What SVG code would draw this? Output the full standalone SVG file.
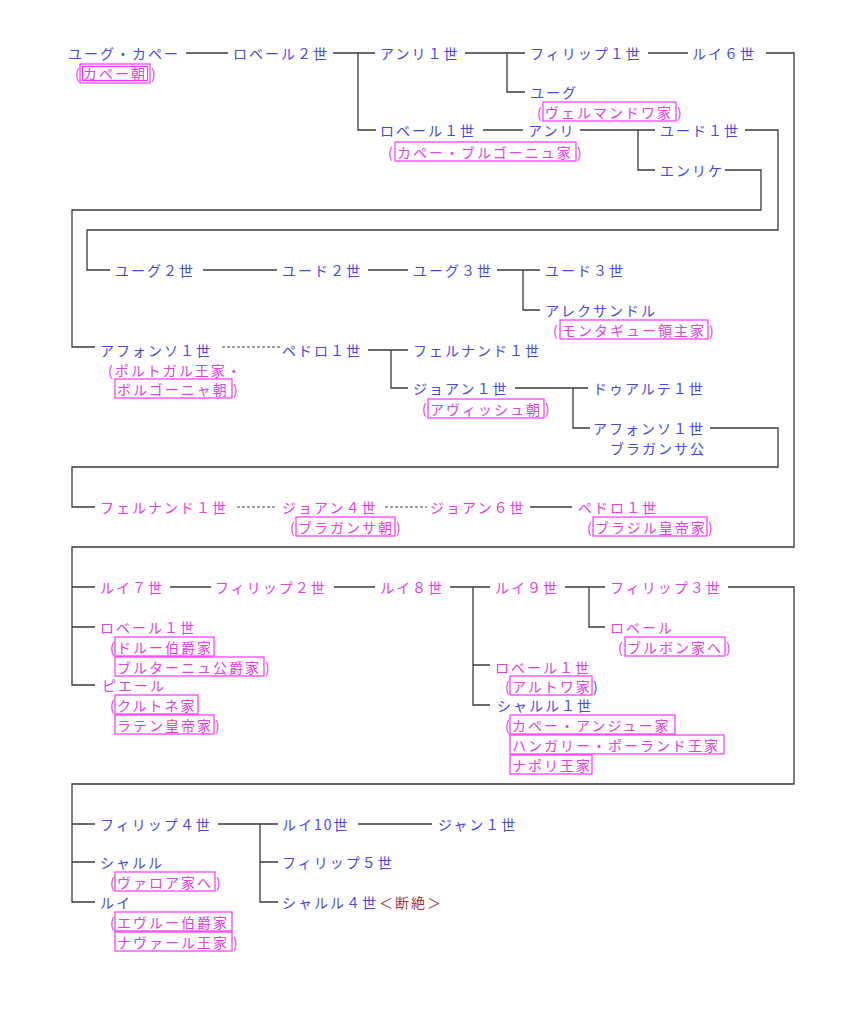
<svg xmlns="http://www.w3.org/2000/svg" width="861" height="1024" viewBox="0 0 861 1024">
<style>
text{font-family:"Noto Sans CJK JP","Noto Sans",sans-serif;font-size:14px;letter-spacing:2px;dominant-baseline:central}
.b{fill:#4848dc}
.m{fill:#e040e0}
.r{fill:#a03838}
.bx{fill:none;stroke:#ff30ff;stroke-width:1.2}
.ln{fill:none;stroke:#3a3a3a;stroke-width:1.3}
.dt{fill:none;stroke:#404040;stroke-width:1.2;stroke-dasharray:3 2}
</style>
<rect width="861" height="1024" fill="#ffffff"/>
<g id="connectors">
<path class="ln" d="M186 53H228"/>
<path class="ln" d="M333 53H375M358 53V130H376"/>
<path class="ln" d="M465 53H525M507 53V92H525"/>
<path class="ln" d="M648 53H688"/>
<path class="ln" d="M766 53H794V547H72V685H95M72 587H95M72 627H95"/>
<path class="ln" d="M483 130H523"/>
<path class="ln" d="M580 130H655M638 130V170H655"/>
<path class="ln" d="M745 130H778V230H87V270H110"/>
<path class="ln" d="M725 170H761V210H72V347H95"/>
<path class="ln" d="M203 270H277"/>
<path class="ln" d="M368 270H408"/>
<path class="ln" d="M497 270H540M523 270V310H540"/>
<path class="dt" d="M222 347H280"/>
<path class="ln" d="M368 350H408M391 350V388H408"/>
<path class="ln" d="M515 388H588M573 388V428H590"/>
<path class="ln" d="M710 428H778V467H72V507H95"/>
<path class="dt" d="M237 507H277"/>
<path class="dt" d="M385 507H427"/>
<path class="ln" d="M530 507H572"/>
<path class="ln" d="M170 587H211"/>
<path class="ln" d="M334 587H375"/>
<path class="ln" d="M450 587H490M473 587V705H490M473 665H490"/>
<path class="ln" d="M565 587H605M589 587V627H605"/>
<path class="ln" d="M728 587H794V784H72V902H95M72 824H95M72 862H95"/>
<path class="ln" d="M218 824H278M260 824V902H278M260 862H278"/>
<path class="ln" d="M358 824H432"/>
</g>
<g id="n-hugues-capet">
<text class="b" x="68" y="53">ユーグ・カペー</text>
<text class="m" x="75" y="73">(</text>
<rect class="bx" x="80" y="64" width="70" height="19"/>
<rect class="bx" x="82.5" y="66.5" width="65" height="14"/>
<text class="m" x="83" y="73">カペー朝</text>
<text class="m" x="151" y="73">)</text>
</g>
<g id="n-robert2"><text class="b" x="233" y="53">ロベール２世</text></g>
<g id="n-henri1"><text class="b" x="380" y="53">アンリ１世</text></g>
<g id="n-philippe1"><text class="b" x="530" y="53">フィリップ１世</text></g>
<g id="n-louis6"><text class="b" x="692" y="53">ルイ６世</text></g>
<g id="n-hugues">
<text class="b" x="530" y="92">ユーグ</text>
<text class="m" x="537" y="112">(</text>
<rect class="bx" x="543" y="102" width="133" height="19"/>
<text class="m" x="545" y="112">ヴェルマンドワ家</text>
<text class="m" x="677" y="112">)</text>
</g>
<g id="n-robert1-bourgogne">
<text class="b" x="380" y="130">ロベール１世</text>
<text class="m" x="388" y="152">(</text>
<rect class="bx" x="395" y="142" width="181" height="19"/>
<text class="m" x="397" y="152">カペー・ブルゴーニュ家</text>
<text class="m" x="577" y="152">)</text>
</g>
<g id="n-henri"><text class="b" x="528" y="130">アンリ</text></g>
<g id="n-eudes1"><text class="b" x="660" y="130">ユード１世</text></g>
<g id="n-enrique"><text class="b" x="660" y="170">エンリケ</text></g>
<g id="n-hugues2"><text class="b" x="115" y="270">ユーグ２世</text></g>
<g id="n-eudes2"><text class="b" x="282" y="270">ユード２世</text></g>
<g id="n-hugues3"><text class="b" x="413" y="270">ユーグ３世</text></g>
<g id="n-eudes3"><text class="b" x="545" y="270">ユード３世</text></g>
<g id="n-alexandre">
<text class="b" x="545" y="310">アレクサンドル</text>
<text class="m" x="553" y="330">(</text>
<rect class="bx" x="560" y="320" width="148" height="19"/>
<text class="m" x="562" y="330">モンタギュー領主家</text>
<text class="m" x="709" y="330">)</text>
</g>
<g id="n-afonso1">
<text class="b" x="100" y="350">アフォンソ１世</text>
<text class="m" x="108" y="370">(ポルトガル王家・</text>
<rect class="bx" x="115" y="379" width="117" height="19"/>
<text class="m" x="117" y="389">ボルゴーニャ朝</text>
<text class="m" x="233" y="389">)</text>
</g>
<g id="n-pedro1"><text class="b" x="282" y="350">ペドロ１世</text></g>
<g id="n-fernando1"><text class="b" x="413" y="350">フェルナンド１世</text></g>
<g id="n-joao1">
<text class="b" x="413" y="388">ジョアン１世</text>
<text class="m" x="422" y="408">(</text>
<rect class="bx" x="428" y="399" width="116" height="19"/>
<text class="m" x="430" y="409">アヴィッシュ朝</text>
<text class="m" x="545" y="408">)</text>
</g>
<g id="n-duarte1"><text class="b" x="593" y="388">ドゥアルテ１世</text></g>
<g id="n-afonso1-braganca">
<text class="b" x="593" y="428">アフォンソ１世</text>
<text class="b" x="610" y="448">ブラガンサ公</text>
</g>
<g id="n-fernando1-m"><text class="m" x="100" y="507">フェルナンド１世</text></g>
<g id="n-joao4">
<text class="m" x="282" y="507">ジョアン４世</text>
<text class="m" x="290" y="527">(</text>
<rect class="bx" x="296" y="517" width="99" height="19"/>
<text class="m" x="298" y="527">ブラガンサ朝</text>
<text class="m" x="396" y="527">)</text>
</g>
<g id="n-joao6"><text class="m" x="430" y="507">ジョアン６世</text></g>
<g id="n-pedro1-brazil">
<text class="m" x="578" y="507">ペドロ１世</text>
<text class="m" x="587" y="527">(</text>
<rect class="bx" x="593" y="517" width="114" height="19"/>
<text class="m" x="595" y="527">ブラジル皇帝家</text>
<text class="m" x="708" y="527">)</text>
</g>
<g id="n-louis7"><text class="m" x="100" y="587">ルイ７世</text></g>
<g id="n-philippe2"><text class="m" x="215" y="587">フィリップ２世</text></g>
<g id="n-louis8"><text class="m" x="380" y="587">ルイ８世</text></g>
<g id="n-louis9"><text class="m" x="495" y="587">ルイ９世</text></g>
<g id="n-philippe3"><text class="m" x="610" y="587">フィリップ３世</text></g>
<g id="n-robert-bourbon">
<text class="m" x="610" y="627">ロベール</text>
<text class="m" x="618" y="647">(</text>
<rect class="bx" x="625" y="637" width="100" height="19"/>
<text class="m" x="627" y="647">ブルボン家へ</text>
<text class="m" x="726" y="647">)</text>
</g>
<g id="n-robert1-artois">
<text class="m" x="495" y="667">ロベール１世</text>
<text class="m" x="505" y="686">(</text>
<rect class="bx" x="510" y="676" width="82" height="19"/>
<text class="m" x="512" y="686">アルトワ家</text>
<text class="b" x="593" y="686">)</text>
</g>
<g id="n-charles1">
<text class="b" x="497" y="705">シャルル１世</text>
<text class="m" x="505" y="725">(</text>
<rect class="bx" x="510" y="715" width="165" height="19"/>
<text class="m" x="512" y="725">カペー・アンジュー家</text>
<rect class="bx" x="510" y="735" width="214" height="19"/>
<text class="m" x="512" y="745">ハンガリー・ポーランド王家</text>
<rect class="bx" x="510" y="755" width="82" height="19"/>
<text class="m" x="512" y="765">ナポリ王家</text>
</g>
<g id="n-robert1-dreux">
<text class="m" x="100" y="627">ロベール１世</text>
<text class="m" x="110" y="647">(</text>
<rect class="bx" x="115" y="637" width="99" height="19"/>
<text class="m" x="117" y="647">ドルー伯爵家</text>
<rect class="bx" x="115" y="657" width="149" height="19"/>
<text class="m" x="117" y="667">ブルターニュ公爵家</text>
<text class="m" x="265" y="667">)</text>
</g>
<g id="n-pierre">
<text class="m" x="102" y="685">ピエール</text>
<text class="m" x="110" y="705">(</text>
<rect class="bx" x="115" y="695" width="83" height="19"/>
<text class="m" x="117" y="705">クルトネ家</text>
<rect class="bx" x="115" y="715" width="99" height="19"/>
<text class="m" x="117" y="725">ラテン皇帝家</text>
<text class="m" x="215" y="725">)</text>
</g>
<g id="n-philippe4"><text class="b" x="100" y="824">フィリップ４世</text></g>
<g id="n-louis10"><text class="b" x="282" y="824">ルイ10世</text></g>
<g id="n-jean1"><text class="b" x="438" y="824">ジャン１世</text></g>
<g id="n-philippe5"><text class="b" x="282" y="862">フィリップ５世</text></g>
<g id="n-charles4">
<text class="b" x="282" y="902">シャルル４世</text>
<text class="r" x="379" y="902">＜断絶＞</text>
</g>
<g id="n-charles">
<text class="b" x="100" y="862">シャルル</text>
<text class="m" x="110" y="882">(</text>
<rect class="bx" x="115" y="872" width="100" height="19"/>
<text class="m" x="117" y="882">ヴァロア家へ</text>
<text class="m" x="216" y="882">)</text>
</g>
<g id="n-louis">
<text class="b" x="100" y="902">ルイ</text>
<text class="m" x="110" y="922">(</text>
<rect class="bx" x="115" y="912" width="117" height="19"/>
<text class="m" x="117" y="922">エヴルー伯爵家</text>
<rect class="bx" x="115" y="932" width="117" height="19"/>
<text class="m" x="117" y="942">ナヴァール王家</text>
<text class="m" x="233" y="942">)</text>
</g>
</svg>
